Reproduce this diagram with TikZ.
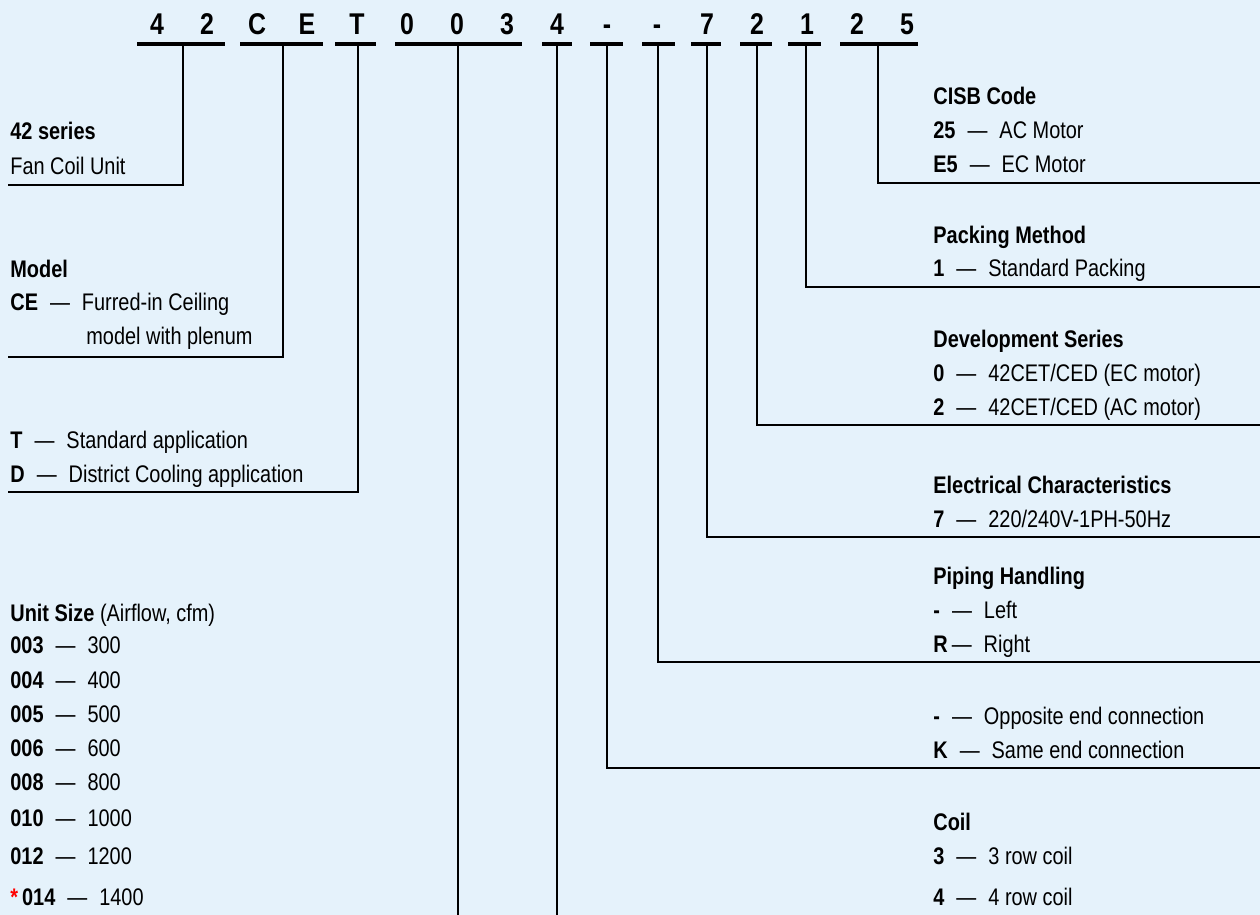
\documentclass[tikz,border=0pt]{standalone}
\usepackage{fontspec}
\setmainfont{Liberation Sans}[FakeStretch=0.83]
\usetikzlibrary{positioning}
\definecolor{paleblue}{RGB}{229,242,251}
\newcommand{\dsh}{\enspace---\enspace}

\begin{document}
\begin{tikzpicture}[x=0.5pt, y=-0.5pt,
every node/.style={inner sep=0pt, anchor=base west, font=\fontsize{12}{17}\selectfont},
digit/.style={anchor=base, font=\fontsize{15}{18}\selectfont\bfseries},
bar/.style={line width=2pt},
link/.style={line width=1.35pt}
]

% Background
\fill[paleblue] (0,0) rectangle (1260,915);
\useasboundingbox (0,0) rectangle (1260,915);

% Model number
\foreach \ch [count=\i from 0] in {4,2,C,E,T,0,0,3,4,-,-,7,2,1,2,5}
  \node[digit] (c\i) at (157+50*\i,35) {\ch};

% Underlines
\foreach \a/\b in {137/225, 240/323, 335/376, 395/522, 542/572, 590/623, 642/675, 691/721, 740/772, 788/821, 840/918}
  \draw[bar] (\a,44) -- (\b,44);

% Stems
\foreach \x [count=\i] in {183,283,358,458,557,607,658,707,757,806,878}
  \coordinate (s\i) at (\x,44);

% Left side
\node (series) at (10,140) {\textbf{42 series}};
\node (fcu) at (10,175) {Fan Coil Unit};
\coordinate (l1) at (8,185);

\node (model) at (10,278) {\textbf{Model}};
\node (ce) at (10,310) {\textbf{CE}\dsh Furred-in Ceiling};
\node (plenum) at (86,344) {model with plenum};
\coordinate (l2) at (8,357);

\node (tstd) at (10,448) {\textbf{T}\dsh Standard application};
\node (dcool) at (10,482) {\textbf{D}\dsh District Cooling application};
\coordinate (l3) at (8,492);

\node (usize) at (10,621) {\textbf{Unit Size} (Airflow, cfm)};
\foreach \y/\code/\cfm in {653/003/300, 688/004/400, 722/005/500, 756/006/600, 790/008/800, 826/010/1000, 864/012/1200}
  \node (u\code) at (10,\y) {\textbf{\code}\dsh \cfm};
\node (u014) at (10,905) {\textbf{\textcolor{red}{*}}\,\textbf{014}\dsh 1400};

% Right side
\node (cisb) at (933,105) {\textbf{CISB Code}};
\node (ac) at (933,139) {\textbf{25}\dsh AC Motor};
\node (ec) at (933,173) {\textbf{E5}\dsh EC Motor};
\coordinate (r1) at (1260,183);

\node (pack) at (933,243) {\textbf{Packing Method}};
\node (stdpack) at (933,277) {\textbf{1}\dsh Standard Packing};
\coordinate (r2) at (1260,287);

\node (devel) at (933,347) {\textbf{Development Series}};
\node (dev0) at (933,381) {\textbf{0}\dsh 42CET/CED (EC motor)};
\node (dev2) at (933,415) {\textbf{2}\dsh 42CET/CED (AC motor)};
\coordinate (r3) at (1260,425);

\node (elec) at (933,493) {\textbf{Electrical Characteristics}};
\node (volt) at (933,527) {\textbf{7}\dsh 220/240V-1PH-50Hz};
\coordinate (r4) at (1260,537);

\node (piping) at (933,584) {\textbf{Piping Handling}};
\node (left) at (933,618) {\textbf{-}\dsh Left};
\node (right) at (933,652) {\textbf{R}\,---\enspace Right};
\coordinate (r5) at (1260,662);

\node (opp) at (933,724) {\textbf{-}\dsh Opposite end connection};
\node (same) at (933,758) {\textbf{K}\dsh Same end connection};
\coordinate (r6) at (1260,768);

\node (coil) at (933,830) {\textbf{Coil}};
\node (row3) at (933,864) {\textbf{3}\dsh 3 row coil};
\node (row4) at (933,905) {\textbf{4}\dsh 4 row coil};

\coordinate (b4) at (458,915);
\coordinate (b5) at (557,915);

% Connectors
\draw[link] (s1) |- (l1);
\draw[link] (s2) |- (l2);
\draw[link] (s3) |- (l3);
\draw[link] (s4) -- (b4);
\draw[link] (s5) -- (b5);
\draw[link] (s6) |- (r6);
\draw[link] (s7) |- (r5);
\draw[link] (s8) |- (r4);
\draw[link] (s9) |- (r3);
\draw[link] (s10) |- (r2);
\draw[link] (s11) |- (r1);

\end{tikzpicture}
\end{document}
